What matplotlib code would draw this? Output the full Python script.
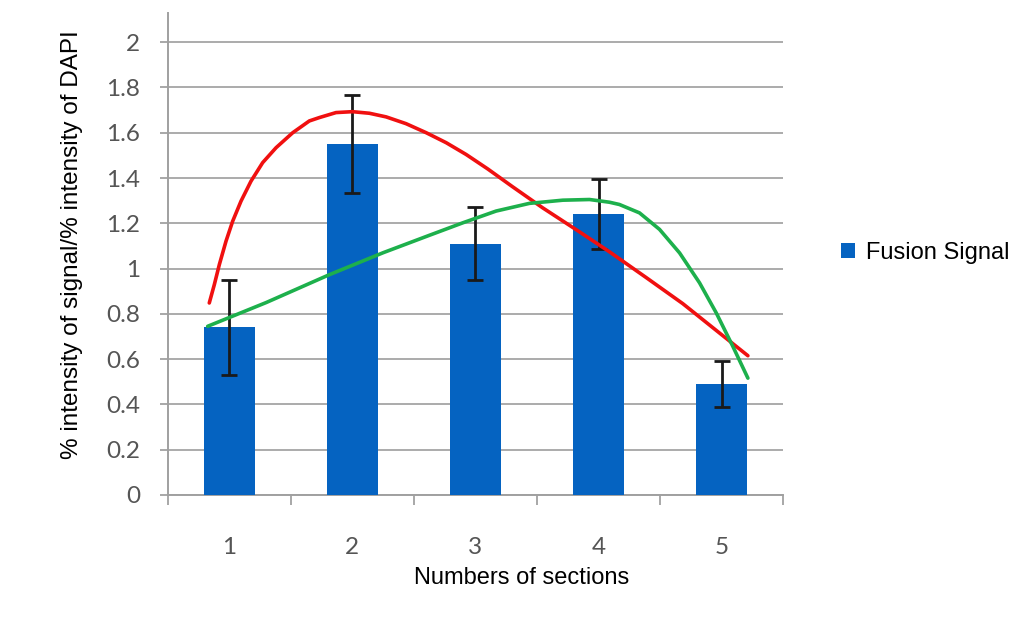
import numpy as np
import matplotlib
matplotlib.use('Agg')
import matplotlib.pyplot as plt

# bar data
sections = ['1', '2', '3', '4', '5']
signal = [0.74, 1.55, 1.11, 1.24, 0.49]
signal_err = [0.21, 0.215, 0.16, 0.155, 0.10]
ytick_labels = ['0', '0.2', '0.4', '0.6', '0.8', '1', '1.2', '1.4', '1.6', '1.8', '2']

# red trend curve (x in category units, 0 = section 1)
red_x = [-0.163, -0.122, -0.081, -0.027, 0.027, 0.095, 0.176, 0.271, 0.38,
         0.515, 0.65, 0.732, 0.867, 1.0, 1.138, 1.274, 1.436, 1.6, 1.762,
         1.924, 2.1, 2.3, 2.547, 2.846, 3.089, 3.388, 3.685, 3.984, 4.214]
red_y = [0.848, 0.929, 1.018, 1.121, 1.209, 1.298, 1.386, 1.468, 1.534,
         1.600, 1.652, 1.667, 1.689, 1.693, 1.686, 1.670, 1.640, 1.600, 1.556,
         1.504, 1.440, 1.362, 1.268, 1.162, 1.074, 0.960, 0.845, 0.715, 0.615]

# green trend curve
green_x = [-0.176, 0.3, 0.813, 1.25, 1.626, 1.897, 2.168, 2.439, 2.71, 2.927,
           3.089, 3.17, 3.333, 3.496, 3.659, 3.821, 3.957, 4.092, 4.214]
green_y = [0.745, 0.85, 0.973, 1.07, 1.147, 1.202, 1.254, 1.288, 1.302, 1.305,
           1.293, 1.283, 1.246, 1.173, 1.069, 0.937, 0.804, 0.656, 0.516]

fig = plt.figure(figsize=(10.17, 6.37), dpi=100)
ax = fig.add_axes([0.165, 0.223, 0.605, 0.757])

xpos = np.arange(len(sections))
ax.bar(xpos, signal, width=0.41, color='#0563C1', zorder=3, label='Fusion Signal')
ax.errorbar(xpos, signal, yerr=signal_err, fmt='none', ecolor='#1a1a1a',
            elinewidth=2, capsize=6, capthick=2, zorder=4)

ax.plot(red_x, red_y, color='#F01010', lw=2.6, zorder=5,
        solid_capstyle='round', solid_joinstyle='round')
ax.plot(green_x, green_y, color='#1DB04C', lw=2.6, zorder=5,
        solid_capstyle='round', solid_joinstyle='round')

ax.set_xlim(-0.5, 4.5)
ax.set_ylim(0, 2.13)
ax.set_yticks(np.arange(0, 2.01, 0.2))
ax.set_yticklabels(ytick_labels, family='Lato')
ax.yaxis.grid(True, color='#ababab', lw=1.4, zorder=0)

ax.set_xticks(xpos)
ax.set_xticklabels(sections, family='Lato')
ax.set_xticks(np.arange(-0.5, 4.6, 1), minor=True)
ax.tick_params(axis='x', which='major', length=0, pad=30, labelsize=17.5, labelcolor='#555555')
ax.tick_params(axis='x', which='minor', length=7, width=1.2, color='#999999')
ax.tick_params(axis='y', length=6, width=1.2, color='#999999', pad=14,
               labelsize=17.5, labelcolor='#555555')

for s in ['top', 'right']:
    ax.spines[s].set_visible(False)
ax.spines['left'].set_color('#a0a0a0')
ax.spines['left'].set_linewidth(1.4)
ax.spines['bottom'].set_color('#a0a0a0')
ax.spines['bottom'].set_linewidth(1.4)

fig.text(72 / 1017, 1 - 245 / 637, '% intensity of signal/% intensity of DAPI',
         fontsize=17.5, family='Liberation Sans', rotation=90,
         ha='center', va='center')
fig.text(522 / 1017, 1 - 578 / 637, 'Numbers of sections', fontsize=17,
         family='Liberation Sans', ha='center', va='center')

ax.legend(loc='center left', bbox_to_anchor=(820 / 1017, 1 - 253 / 637),
          bbox_transform=fig.transFigure, frameon=False, handlelength=0.6,
          handleheight=0.6, handletextpad=0.45,
          prop={'family': 'Liberation Sans', 'size': 17})

fig.savefig('out.png', dpi=100)
